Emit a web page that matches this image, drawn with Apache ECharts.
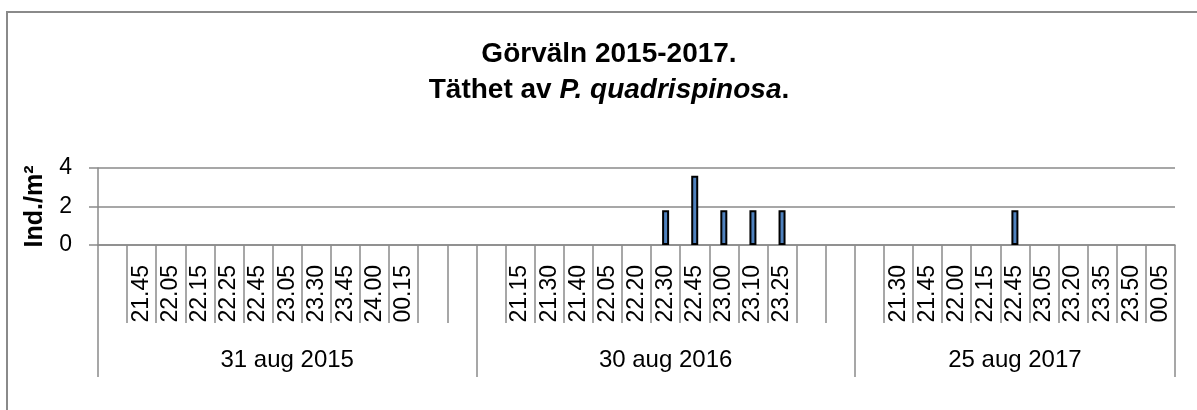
<!DOCTYPE html>
<html>
<head>
<meta charset="utf-8">
<script src="https://cdn.jsdelivr.net/npm/echarts@6/dist/echarts.min.js"></script>
<style>
html,body{margin:0;padding:0;background:#fff;}
#chart{width:1197px;height:410px;}
</style>
</head>
<body>
<div id="chart"></div>
<script>
// ---- data ----
const groupNames = ['31 aug 2015', '30 aug 2016', '25 aug 2017'];
const times2015 = ['', '21.45', '22.05', '22.15', '22.25', '22.45', '23.05', '23.30', '23.45', '24.00', '00.15', '', ''];
const times2016 = ['', '21.15', '21.30', '21.40', '22.05', '22.20', '22.30', '22.45', '23.00', '23.10', '23.25', '', ''];
const times2017 = ['', '21.30', '21.45', '22.00', '22.15', '22.45', '23.05', '23.20', '23.35', '23.50', '00.05'];
const values2015 = [0, 0, 0, 0, 0, 0, 0, 0, 0, 0, 0, 0, 0];
const values2016 = [0, 0, 0, 0, 0, 0, 1.8, 3.6, 1.8, 1.8, 1.8, 0, 0];
const values2017 = [0, 0, 0, 0, 0, 1.8, 0, 0, 0, 0, 0];
const yTicks = [0, 2, 4];

// ---- build ----
const groups = [times2015, times2016, times2017];
const categories = [].concat(times2015, times2016, times2017);
const values = [].concat(values2015, values2016, values2017).map(v => v === 0 ? null : v);
const total = categories.length;
const boundaries = [0];
const centers = [];
let acc = 0;
groups.forEach(g => { centers.push(acc + g.length / 2); acc += g.length; boundaries.push(acc); });

const GRAY = '#8a8a8a';
const FONT = '"Liberation Sans", Arial, sans-serif';

const chart = echarts.init(document.getElementById('chart'), null, {renderer: 'canvas'});
chart.setOption({
  animation: false,
  backgroundColor: '#fff',
  graphic: [
    {type: 'rect', shape: {x: 7, y: 12, width: 1230, height: 440}, style: {fill: 'none', stroke: GRAY, lineWidth: 2}, silent: true},
    {type: 'text', x: 609, y: 54, style: {text: 'Görväln 2015-2017.', font: 'bold 28px ' + FONT, fill: '#000', align: 'center', verticalAlign: 'middle'}},
    {type: 'text', x: 609, y: 90, style: {
      text: '{b|Täthet av }{i|P. quadrispinosa}{b|.}', align: 'center', verticalAlign: 'middle',
      rich: {b: {font: 'bold 28px ' + FONT, fill: '#000'}, i: {font: 'italic bold 28px ' + FONT, fill: '#000'}}
    }}
  ],
  grid: {left: 98, right: 22, top: 168, bottom: 165, containLabel: false},
  xAxis: [
    {
      type: 'category', data: categories, boundaryGap: true, position: 'bottom',
      axisLine: {show: true, lineStyle: {color: GRAY, width: 1.5}},
      axisTick: {show: true, interval: 0, length: 78, lineStyle: {color: GRAY, width: 1.5}},
      axisLabel: {interval: 0, rotate: 90, margin: 20, fontSize: 23, fontFamily: FONT, color: '#000'},
      splitLine: {show: false}
    },
    {
      type: 'value', min: 0, max: total, position: 'bottom',
      axisLine: {show: false},
      splitLine: {show: false},
      axisTick: {show: true, customValues: boundaries, length: 132, lineStyle: {color: GRAY, width: 1.5}},
      axisLabel: {customValues: centers, margin: 103, fontSize: 24, fontFamily: FONT, color: '#000',
        formatter: v => { const i = centers.indexOf(v); return i >= 0 ? groupNames[i] : ''; }}
    }
  ],
  yAxis: {
    type: 'value', min: yTicks[0], max: yTicks[yTicks.length - 1], interval: yTicks[1] - yTicks[0],
    name: 'Ind./m²', nameLocation: 'middle', nameRotate: 90, nameGap: 50,
    nameTextStyle: {fontSize: 25, fontWeight: 'bold', fontFamily: FONT, color: '#000'},
    axisLine: {show: true, lineStyle: {color: GRAY, width: 1.5}},
    axisTick: {show: true, length: 9, lineStyle: {color: GRAY, width: 1.5}},
    axisLabel: {margin: 26, fontSize: 23, fontFamily: FONT, color: '#000'},
    splitLine: {show: true, lineStyle: {color: GRAY, width: 1.5}}
  },
  series: [{
    type: 'bar', data: values, xAxisIndex: 0, yAxisIndex: 0, barWidth: 7,
    itemStyle: {color: '#4F81BD', borderColor: '#000', borderWidth: 2}
  }]
});
</script>
</body>
</html>
